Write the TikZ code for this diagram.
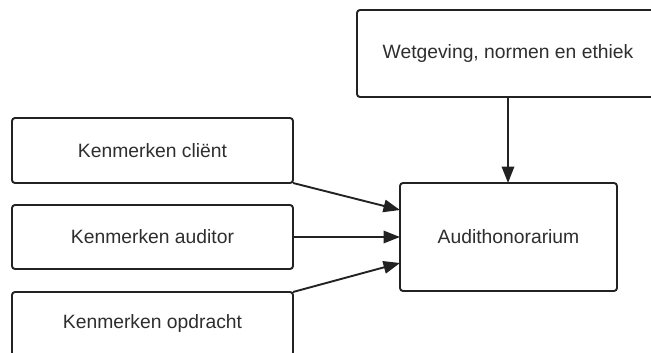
\documentclass[tikz,border=0pt]{standalone}
\usepackage{fontspec}
\setmainfont{Liberation Sans}
\usetikzlibrary{arrows.meta}
\definecolor{ink}{HTML}{222222}
\definecolor{txt}{HTML}{2E2E2E}
\begin{document}
\begin{tikzpicture}[x=1pt,y=-1pt,
  box/.style={draw=ink,line width=1.9pt,rounded corners=3pt,fill=white,
    inner sep=0pt,outer sep=0pt,text=txt,font=\fontsize{19.3}{22}\selectfont},
  link/.style={draw=ink,line width=1.9pt,-{Triangle[length=16.5pt,width=12.5pt]}}]
  \useasboundingbox (0,0) rectangle (651,353);
  \clip (0,0) rectangle (651,353);
  \fill[white] (0,0) rectangle (651,353);
  % factor boxes on the left
  \node[box,minimum width=281pt,minimum height=65pt] (client) at (152.5,150.5) {Kenmerken cliënt};
  \node[box,minimum width=281pt,minimum height=64pt] (auditor) at (152.5,237) {Kenmerken auditor};
  \node[box,minimum width=281pt,minimum height=64pt] (opdracht) at (152.5,324) {Kenmerken opdracht};
  % regulation box on top
  \node[box,minimum width=302pt,minimum height=87pt] (wet) at (508,53.5) {Wetgeving, normen en ethiek};
  % outcome box
  \node[box,minimum width=217pt,minimum height=108pt] (fee) at (508.5,237) {Audithonorarium};
  % connectors
  \draw[link] (client.south east) -- ([yshift=27pt]fee.west);
  \draw[link] (auditor.east) -- (fee.west);
  \draw[link] (opdracht.north east) -- ([yshift=-26pt]fee.west);
  \draw[link] (wet.south) -- (wet.south |- fee.north);
\end{tikzpicture}
\end{document}
